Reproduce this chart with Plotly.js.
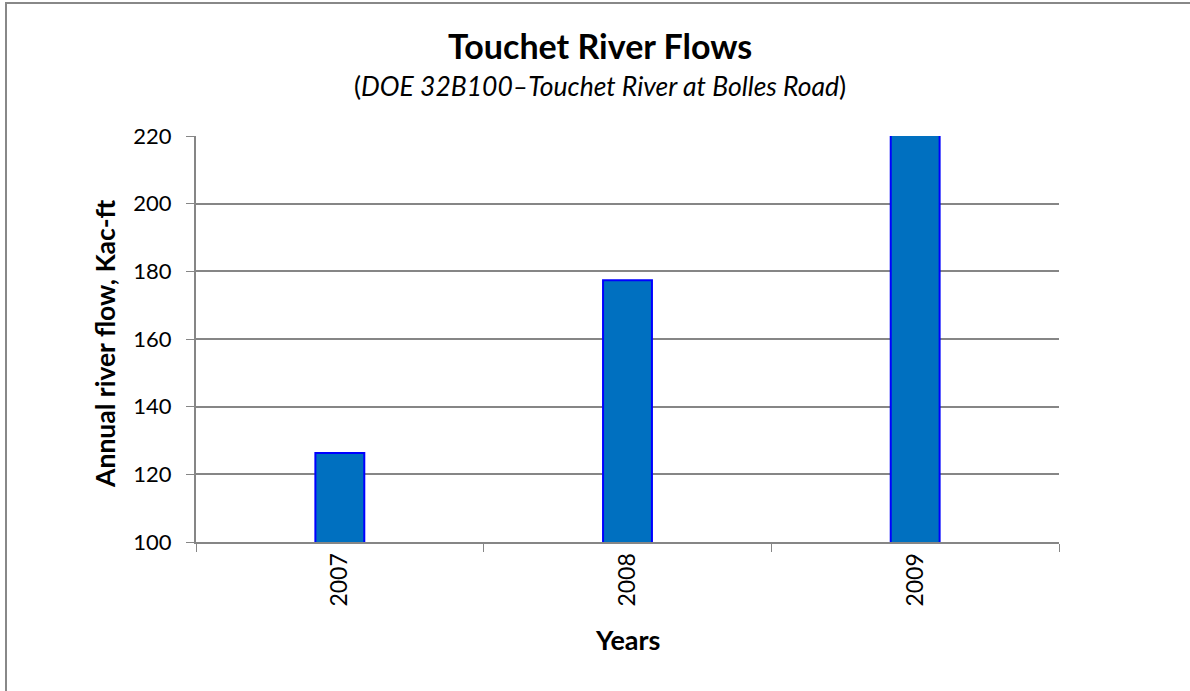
<!DOCTYPE html>
<html>
<head>
<meta charset="utf-8">
<script src="https://cdn.plot.ly/plotly-3.0.1.min.js"></script>
<style>
  html, body { margin: 0; padding: 0; background: #fff; overflow: hidden; }
  #chart { width: 1190px; height: 691px; }
  #frame { position: absolute; left: 5px; top: 2px; width: 1300px; height: 800px;
           border-left: 2px solid #888; border-top: 2px solid #888; pointer-events: none; }
</style>
</head>
<body>
<div id="chart"></div>
<div id="frame"></div>
<script>
// Annual flow of the Touchet River at Bolles Road (thousand acre-feet)
const years = ['2007', '2008', '2009'];
const flows = [126.3, 177.4, 226];
const yTicks = [100, 120, 140, 160, 180, 200, 220];

const FONT = 'Lato, "Open Sans", sans-serif';

const trace = {
  type: 'bar',
  x: years,
  y: flows,
  base: 0,
  width: 0.17,
  marker: { color: '#0070C0', line: { color: '#0000FF', width: 2 } },
  cliponaxis: true,
  hoverinfo: 'x+y'
};

const layout = {
  width: 1190,
  height: 691,
  paper_bgcolor: '#ffffff',
  plot_bgcolor: '#ffffff',
  margin: { l: 196, r: 131, t: 136, b: 149 },
  showlegend: false,
  font: { family: FONT, color: '#000' },
  xaxis: {
    type: 'category',
    showgrid: false,
    showline: true,
    linecolor: '#868686',
    linewidth: 2,
    ticks: 'outside',
    tickson: 'boundaries',
    ticklen: 8,
    tickwidth: 1,
    tickcolor: '#868686',
    tickangle: -90,
    tickfont: { size: 23, family: FONT, color: '#000' },
    zeroline: false,
    automargin: false
  },
  yaxis: {
    range: [100, 220],
    tickvals: yTicks,
    ticktext: yTicks.map(String),
    showgrid: true,
    gridcolor: '#868686',
    gridwidth: 2,
    showline: true,
    linecolor: '#868686',
    linewidth: 2,
    ticks: 'outside',
    ticklen: 8,
    tickwidth: 1,
    tickcolor: '#868686',
    tickfont: { size: 22, family: FONT, color: '#000' },
    ticklabelstandoff: 10,
    zeroline: false,
    automargin: false
  },
  annotations: [
    {
      text: '<b>Touchet River Flows</b>',
      xref: 'paper', yref: 'paper', x: 0.468, y: 1.224,
      xanchor: 'center', yanchor: 'middle', showarrow: false,
      font: { size: 34, family: FONT, color: '#000' }
    },
    {
      text: '(<i>DOE 32B100\u2013Touchet River at Bolles Road</i>)',
      xref: 'paper', yref: 'paper', x: 0.468, y: 1.1232,
      xanchor: 'center', yanchor: 'middle', showarrow: false,
      font: { size: 26.5, family: FONT, color: '#000' }
    },
    {
      text: '<b>Annual river flow, Kac-ft</b>',
      xref: 'paper', yref: 'paper', x: -0.1054, y: 0.488,
      xanchor: 'center', yanchor: 'middle', textangle: -90, showarrow: false,
      font: { size: 26.5, family: FONT, color: '#000' }
    },
    {
      text: '<b>Years</b>',
      xref: 'paper', yref: 'paper', x: 0.5, y: -0.239,
      xanchor: 'center', yanchor: 'middle', showarrow: false,
      font: { size: 27, family: FONT, color: '#000' }
    }
  ]
};

Plotly.newPlot('chart', [trace], layout, { displayModeBar: false, staticPlot: true });
</script>
</body>
</html>
